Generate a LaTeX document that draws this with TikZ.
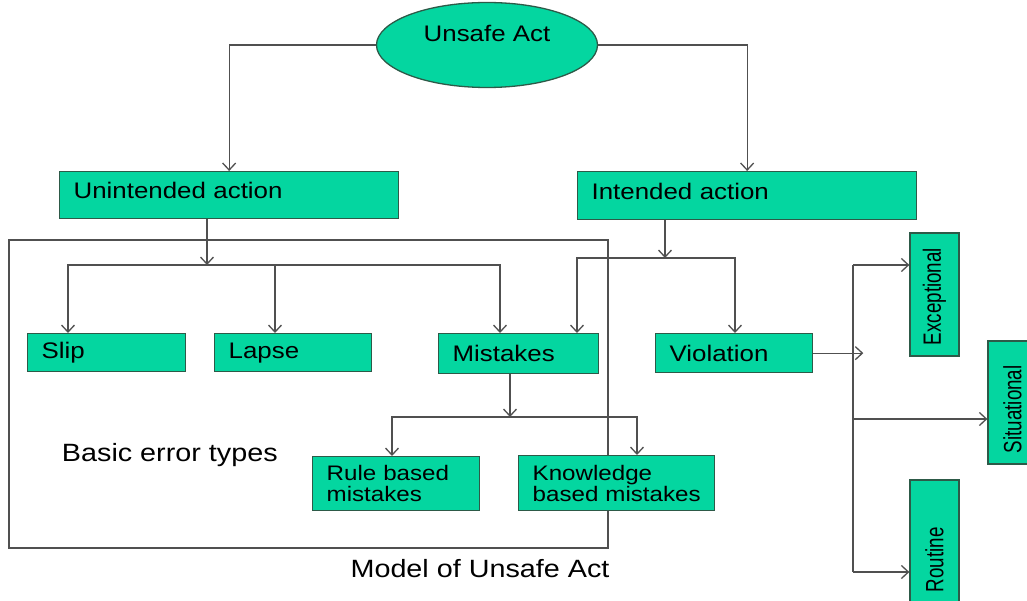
\documentclass[tikz,border=0pt]{standalone}
\usepackage{fontspec}
\setmainfont[FakeStretch=1.15]{Liberation Sans}
\newfontfamily\narrowfont[FakeStretch=0.75]{Liberation Sans}
\usepackage{tikz}
\usetikzlibrary{shapes.geometric}
\usetikzlibrary{arrows.meta}
\usepackage{xcolor}
\definecolor{boxfill}{RGB}{4,214,160}
\definecolor{boxline}{RGB}{45,90,72}
\definecolor{wire}{RGB}{80,80,80}

\begin{document}
\begin{tikzpicture}[x=1pt,y=-1pt,->,>={Straight Barb[length=7pt,width=13pt]},line width=1.3pt]
  \tikzstyle{every node}=[font=\fontsize{22.5}{26}\selectfont,text=black]
  \tikzstyle{box}=[draw=boxline,fill=boxfill,line width=1.3pt,anchor=north west,align=left,inner xsep=14pt,inner ysep=0pt]
  \tikzstyle{tallbox}=[draw=boxline,fill=boxfill,line width=1.3pt,rotate=90,align=left,inner xsep=11pt,inner ysep=0pt,text width=101pt,minimum height=49pt,font=\narrowfont\fontsize{25}{28}\selectfont]
  \tikzstyle{every path}=[draw=wire]

  \useasboundingbox[fill=white,draw=none] (0,0) rectangle (1027,601);

  \draw[-,draw=wire] (9,240) rectangle (608,548);

  \node [ellipse,draw=boxline,fill=boxfill,minimum width=221pt,minimum height=85pt,text depth=24pt,inner sep=0pt] (act) at (487,45) {Unsafe Act};
  \node [box,text width=311pt,minimum height=47pt,text height=16pt,text depth=9pt] (unint) at (59,171)  {Unintended action};
  \node [box,text width=311pt,minimum height=48pt,text height=16pt,text depth=9pt] (int)   at (577,171) {Intended action};
  \node [box,text width=130pt,minimum height=38pt] (slip) at (27,333)  {Slip};
  \node [box,text width=129pt,minimum height=38pt] (lapse) at (214,333) {Lapse};
  \node [box,text width=132pt,minimum height=40pt] (mist) at (438,333) {Mistakes};
  \node [box,text width=129pt,minimum height=39pt] (viol) at (655,333) {Violation};
  \node [box,text width=139pt,minimum height=54pt,font=\fontsize{21}{21}\selectfont] (rule) at (312,456) {\mbox{Rule based}\\\mbox{mistakes}};
  \node [box,text width=168pt,minimum height=55pt,font=\fontsize{21}{21}\selectfont] (know) at (518,455) {\mbox{Knowledge}\\\mbox{based mistakes}};
  \node [tallbox] (exc)  at (934.5,294.5)  {Exceptional};
  \node [tallbox] (sit)  at (1012.5,402.5) {Situational};
  \node [tallbox] (rout) at (934.5,541.5)  {Routine};

  \node [anchor=base west,font=\fontsize{25}{28}\selectfont] (basic) at (58,461) {Basic error types};
  \node [anchor=base,font=\fontsize{25}{28}\selectfont] (model) at (480,577) {Model of Unsafe Act};

  \coordinate (j1) at (207,265);
  \coordinate (j2) at (665,258);
  \coordinate (j3) at (510,417);
  \coordinate (tt) at (853,265);
  \coordinate (tm) at (853,419);
  \coordinate (tb) at (853,572);

  \draw (act.west) -| (unint.north);
  \draw (act.east) -| (int.north);

  \draw ([xshift=148pt]unint.south west) -- (j1);
  \draw (j1) -| ([xshift=41pt]slip.north west);
  \draw (j1) -| ([xshift=61pt]lapse.north west);
  \draw (j1) -| ([xshift=62pt]mist.north west);

  \draw ([xshift=88pt]int.south west) -- (j2);
  \draw (j2) -| ([xshift=139pt]mist.north west);
  \draw (j2) -| ([xshift=80pt]viol.north west);

  \draw ([xshift=72pt]mist.south west) -- (j3);
  \draw (j3) -| ([xshift=80pt]rule.north west);
  \draw (j3) -| ([xshift=119pt]know.north west);

  \draw (viol.east) -- ++(50,0);
  \draw[-] (tt) -- (tb);
  \draw (tt) -- (tt -| exc.north);
  \draw (tm) -- (tm -| sit.north);
  \draw (tb) -- (tb -| rout.north);
\end{tikzpicture}
\end{document}
